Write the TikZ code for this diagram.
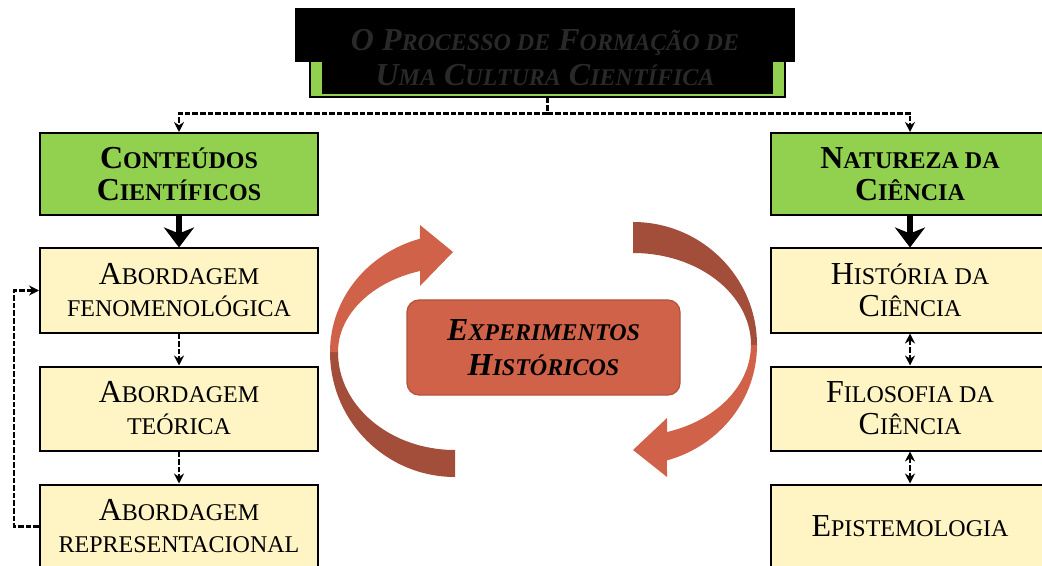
\documentclass[tikz,border=0pt]{standalone}
\usepackage{fontspec}
\setmainfont{Liberation Serif}
\usepackage{graphicx}
\usetikzlibrary{arrows.meta,calc,positioning}

\definecolor{verde}{HTML}{92D050}
\definecolor{creme}{HTML}{FFF4C4}
\definecolor{tijolo}{HTML}{CF6249}
\definecolor{tijoloesc}{HTML}{A34E3A}

% versalete feito a mao
\newcommand{\sm}[1]{\scalebox{0.75}{#1}}

\tikzset{
    caixa/.style={draw=black, line width=1pt, minimum width=139pt, minimum height=42pt,
        inner sep=0pt, align=center, font=\fontsize{16}{16}\selectfont},
    verdebox/.style={caixa, fill=verde, minimum height=41pt, font=\fontsize{16}{16}\selectfont\bfseries},
    amarelo/.style={caixa, fill=creme},
    centro/.style={draw=tijolo!85!black, line width=0.6pt, fill=tijolo, rounded corners=6pt,
        minimum width=136.5pt, minimum height=47.5pt, inner sep=0pt, align=center,
        font=\fontsize{16}{17.5}\selectfont\bfseries\itshape},
    tracejado/.style={dash pattern=on 2.8pt off 1pt, line width=1.1pt, -{Stealth[length=5pt,width=5pt]}},
    grossa/.style={line width=3pt, -{Stealth[length=10pt,width=15pt,inset=3pt]}},
}

\begin{document}
\begin{tikzpicture}[x=0.5pt, y=-0.5pt]

    \useasboundingbox (0,0) rectangle (1042,566);

    % Titulo (caixa verde coberta pela faixa preta)
    \node[draw=black, line width=0.6pt, fill=verde, minimum width=237.5pt, minimum height=28.5pt,
        inner sep=0pt] (titulo) at (547.5,68.5) {};
    \fill[black] (322,40) rectangle (773,94);
    \fill[black] (295,8) rectangle (795,62);
    \node[font=\fontsize{16}{17.5}\selectfont\bfseries\itshape, text=black!84, align=center]
        (titulotxt) at (545,58) {O P\sm{ROCESSO DE} F\sm{ORMAÇÃO DE}\\U\sm{MA} C\sm{ULTURA} C\sm{IENTÍFICA}};

    % Caixas verdes
    \node[verdebox] (cont) at (179,174) {C\sm{ONTEÚDOS}\\C\sm{IENTÍFICOS}};
    \node[verdebox] (nat) at (910,174) {N\sm{ATUREZA DA}\\C\sm{IÊNCIA}};

    % Coluna da esquerda
    \node[amarelo] (fen) at (179,290.5) {A\sm{BORDAGEM}\\\sm{FENOMENOLÓGICA}};
    \node[amarelo] (teo) at (179,408.5) {A\sm{BORDAGEM}\\\sm{TEÓRICA}};
    \node[amarelo] (rep) at (179,526.5) {A\sm{BORDAGEM}\\\sm{REPRESENTACIONAL}};

    % Coluna da direita
    \node[amarelo] (hist) at (910,290.5) {H\sm{ISTÓRIA DA}\\C\sm{IÊNCIA}};
    \node[amarelo] (filo) at (910,408.5) {F\sm{ILOSOFIA DA}\\C\sm{IÊNCIA}};
    \node[amarelo] (epis) at (910,526.5) {E\sm{PISTEMOLOGIA}};

    % Setas curvas (parte de tras mais escura)
    \fill[tijoloesc] (330,352) arc[start angle=180, end angle=90, x radius=125, y radius=125]
        -- (455,450) arc[start angle=90, end angle=180, x radius=117, y radius=98] -- cycle;
    \fill[tijolo] (330,352) arc[start angle=180, end angle=253.7, x radius=125, y radius=118]
        -- (420,225) -- (453,252) -- (420,286) -- (420,271)
        arc[start angle=252.6, end angle=180, x radius=117, y radius=85] -- cycle;
    \fill[tijoloesc] (633,222) arc[start angle=270, end angle=360, x radius=124, y radius=123]
        -- (751,345) arc[start angle=0, end angle=-90, x radius=118, y radius=92] -- cycle;
    \fill[tijolo] (757,345) arc[start angle=0, end angle=74.1, x radius=124, y radius=120]
        -- (667,477) -- (633,450) -- (667,418) -- (667,432)
        arc[start angle=73.2, end angle=0, x radius=118, y radius=91] -- cycle;

    % Caixa central
    \node[centro] (exp) at (543.5,347.5) {E\sm{XPERIMENTOS}\\H\sm{ISTÓRICOS}};

    % Ligacoes
    \coordinate (split) at ($(titulo.south)+(0,16)$);
    \draw[tracejado, -] (titulo.south) -- (split);
    \draw[tracejado] (split) -| (cont.north);
    \draw[tracejado] (split) -| (nat.north);
    \draw[grossa] (cont) -- (fen);
    \draw[grossa] (nat) -- (hist);
    \draw[tracejado] (fen) -- (teo);
    \draw[tracejado] (teo) -- (rep);
    \draw[tracejado] (rep.west) -- ++(-25,0) |- (fen.west);
    \draw[tracejado, {Stealth[length=5pt,width=5pt]}-{Stealth[length=5pt,width=5pt]}] (hist) -- (filo);
    \draw[tracejado, {Stealth[length=5pt,width=5pt]}-{Stealth[length=5pt,width=5pt]}] (filo) -- (epis);

\end{tikzpicture}
\end{document}
